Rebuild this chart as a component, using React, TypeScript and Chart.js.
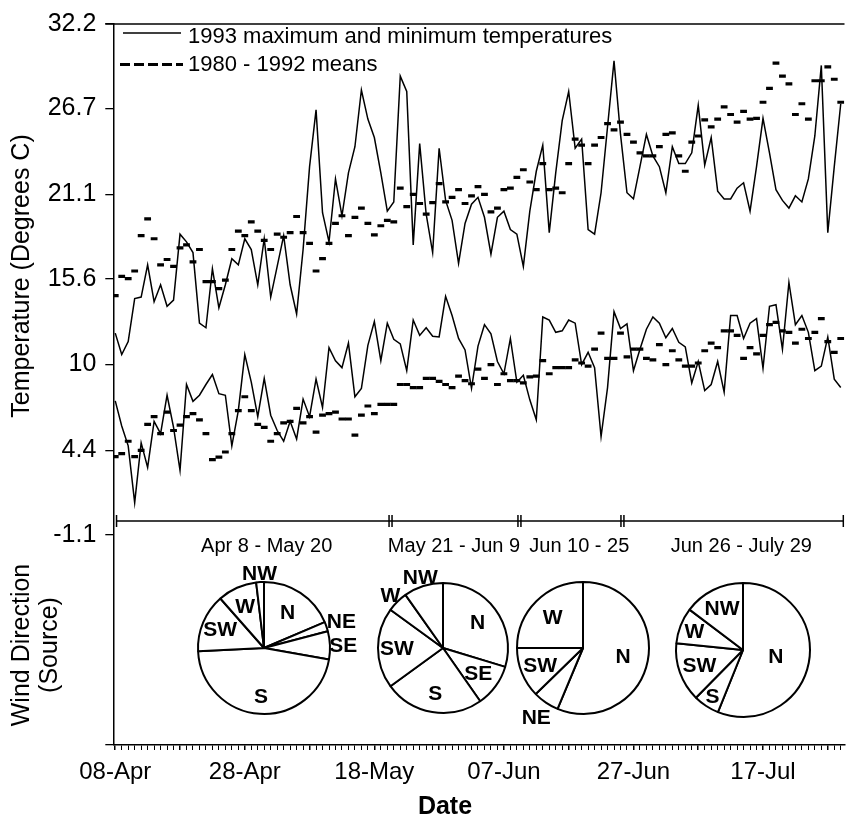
import React, { useEffect, useRef } from "react";
import { Chart, registerables } from "chart.js";
Chart.register(...registerables);

const FONT = '"Liberation Sans", Arial, Helvetica, sans-serif';

// Daily values, day 0 = 08-Apr ... day 112 = 29-Jul (1993)
const maxTemp1993 = [
  12.05, 10.65, 11.5, 14.3, 14.4, 16.5, 14.1, 15.2, 13.8, 14.2,
  18.5, 18.0, 17.3, 12.7, 12.4, 16.25, 13.7, 15.2, 16.9, 16.5,
  18.2, 17.5, 15.2, 18.2, 14.4, 16.4, 18.4, 15.2, 13.3, 17.5,
  22.9, 26.6, 19.9, 18.0, 22.1, 19.7, 22.5, 24.2, 27.9, 26.0,
  24.8, 22.5, 20.0, 20.6, 28.8, 27.8, 17.8, 24.4, 19.8, 17.3,
  24.1, 20.7, 19.4, 16.6, 19.2, 20.45, 20.9, 19.6, 17.2, 19.6,
  20.0, 18.8, 18.5, 16.4, 20.0, 22.6, 24.3, 18.6, 22.5, 25.9,
  27.8, 24.1, 24.7, 18.8, 18.5, 21.2, 25.5, 29.8, 25.0, 21.2,
  20.8, 22.9, 25.0, 23.6, 22.9, 21.2, 24.2, 23.1, 23.1, 23.8,
  26.9, 23.0, 24.8, 21.3, 20.8, 20.8, 21.5, 21.85, 20.0, 22.9,
  26.05, 23.8, 21.4, 20.7, 20.2, 21.0, 20.6, 22.1, 24.9, 29.5,
  18.6, 22.9, 27.0,
];
const minTemp1993 = [
  7.63, 6.0, 4.7, 1.0, 4.9, 3.3, 6.3, 5.5, 8.0, 5.9,
  3.1, 8.7, 7.6, 8.0, 8.7, 9.35, 8.1, 8.0, 4.7, 7.0,
  10.65, 8.85, 6.6, 9.1, 6.7, 5.7, 5.0, 6.3, 5.15, 7.75,
  6.6, 9.05, 7.2, 11.1, 10.25, 9.8, 11.4, 7.9, 8.45, 11.25,
  12.8, 10.25, 12.7, 11.65, 11.35, 9.6, 12.9, 11.9, 12.4, 11.85,
  11.8, 14.45, 13.2, 11.7, 10.95, 8.45, 11.2, 12.6, 12.0, 10.2,
  9.4, 11.7, 8.85, 9.3, 7.7, 6.4, 13.1, 12.9, 12.1, 12.2,
  12.9, 12.7, 10.0, 10.8, 9.8, 5.3, 8.5, 13.45, 12.35, 12.65,
  9.6, 11.0, 12.3, 13.1, 12.7, 11.75, 12.35, 11.45, 11.15, 8.8,
  10.2, 8.3, 8.7, 10.2, 8.2, 13.2, 13.2, 11.7, 12.7, 13.0,
  9.75, 13.8, 13.9, 11.0, 15.35, 12.6, 13.2, 12.1, 9.6, 9.9,
  11.8, 9.05, 8.5,
];
const meanMax8092 = [
  14.5, 15.75, 15.6, 16.1, 18.4, 19.5, 18.2, 16.5, 16.85, 16.4,
  17.6, 17.8, 16.7, 17.5, 15.4, 15.4, 14.95, 15.5, 17.5, 18.7,
  18.4, 19.3, 18.7, 18.1, 17.5, 18.5, 18.3, 18.6, 19.65, 18.6,
  17.9, 16.1, 16.9, 17.9, 19.2, 19.7, 18.4, 19.6, 20.2, 19.2,
  18.45, 19.05, 19.4, 19.3, 21.5, 20.3, 21.1, 20.5, 19.8, 20.55,
  21.8, 20.6, 20.9, 21.4, 20.5, 21.0, 21.6, 21.1, 19.95, 20.2,
  21.4, 21.5, 22.2, 22.7, 21.9, 21.4, 23.1, 21.4, 21.5, 21.2,
  23.1, 24.7, 24.3, 23.1, 24.3, 24.8, 25.7, 25.3, 25.8, 25.0,
  24.5, 23.8, 23.6, 23.6, 24.2, 25.0, 25.1, 23.6, 22.6, 24.5,
  24.9, 25.95, 25.5, 26.0, 26.8, 26.3, 25.8, 26.5, 26.0, 26.05,
  27.1, 28.0, 29.65, 28.8, 28.3, 26.3, 27.0, 26.0, 28.5, 28.5,
  29.4, 28.6, 27.1,
];
const meanMin8092 = [
  4.0, 4.2, 5.0, 4.0, 4.4, 6.1, 6.6, 5.5, 6.9, 5.7,
  6.05, 6.6, 6.8, 6.4, 5.5, 3.8, 3.97, 4.3, 5.5, 7.0,
  7.9, 7.0, 6.1, 5.9, 5.0, 5.5, 6.2, 6.3, 7.15, 6.2,
  6.6, 5.6, 6.7, 6.8, 6.9, 6.45, 6.45, 5.4, 6.7, 7.3,
  6.8, 7.4, 7.4, 7.4, 8.7, 8.7, 8.5, 8.5, 9.1, 9.1,
  8.9, 8.7, 8.5, 9.25, 8.95, 8.75, 9.7, 9.1, 10.0, 8.7,
  9.4, 8.95, 8.95, 8.8, 9.2, 9.25, 10.25, 9.4, 9.8, 9.8,
  9.8, 10.3, 10.1, 9.9, 11.0, 12.05, 10.4, 10.4, 12.05, 10.5,
  11.0, 11.0, 10.4, 10.3, 11.3, 10.0, 10.9, 10.3, 9.9, 9.9,
  10.1, 10.9, 11.4, 11.1, 12.2, 12.2, 11.9, 10.4, 11.1, 10.7,
  11.9, 12.6, 12.75, 12.2, 12.1, 11.4, 12.3, 11.7, 12.1, 13.0,
  11.5, 10.8, 11.7,
];

const dateTickDays = [0, 20, 40, 60, 80, 100];
const dateTickLabels = ["08-Apr", "28-Apr", "18-May", "07-Jun", "27-Jun", "17-Jul"];

const tempTickValues = [32.2, 26.7, 21.1, 15.6, 10, 4.4, -1.1];
const tempTickLabels = ["32.2", "26.7", "21.1", "15.6", "10", "4.4", "-1.1"];

const periodLabels = ["Apr 8 - May 20", "May 21 - Jun 9", "Jun 10 - 25", "Jun 26 - July 29"];
const periodBounds = [0.2, 42.5, 62.4, 78.3, 112.4];

// wind direction shares (% of days), clockwise from north
const windLabelsP1 = ["N", "NE", "SE", "S", "SW", "W", "NW"];
const windValuesP1 = [18.6, 2.3, 6.9, 46.4, 14.3, 9.6, 1.9];
const windLabelsP2 = ["N", "SE", "S", "SW", "W", "NW"];
const windValuesP2 = [29.7, 10.6, 24.7, 20.0, 5.2, 9.8];
const windLabelsP3 = ["N", "NE", "SW", "W"];
const windValuesP3 = [56.3, 6.4, 12.3, 25.0];
const windLabelsP4 = ["N", "S", "SW", "W", "NW"];
const windValuesP4 = [56.1, 6.3, 14.2, 8.7, 14.7];

// ---------- layout (not data) ----------
const X_MIN = -0.3;
const X_MAX = 112.58;
const Y_MIN = -14.8;
const Y_MAX = 32.2;
const PERIOD_BAR_Y = -0.2;

const pieLayout = [
  { labels: windLabelsP1, values: windValuesP1, cx: 264.3, cy: 648.3, r: 66, lr: [0.65, 1.24, 1.2, 0.73, 0.72, 0.7, 1.14] },
  { labels: windLabelsP2, values: windValuesP2, cx: 442.7, cy: 648.3, r: 65, lr: [0.66, 0.67, 0.71, 0.71, 1.15, 1.15] },
  { labels: windLabelsP3, values: windValuesP3, cx: 582.7, cy: 648.3, r: 66, lr: [0.62, 1.26, 0.7, 0.65] },
  { labels: windLabelsP4, values: windValuesP4, cx: 742.7, cy: 650, r: 67, lr: [0.5, 0.83, 0.69, 0.78, 0.7] },
];
const periodLabelX = [266.7, 454, 579.3, 741.3];

const toXY = (arr: number[]) => arr.map((v, i) => ({ x: i, y: v }));

const decorPlugin = {
  id: "decor",
  afterDraw(chart: any) {
    const ctx = chart.ctx as CanvasRenderingContext2D;
    const { left, right, top } = chart.chartArea;
    ctx.save();
    ctx.strokeStyle = "#000";
    ctx.fillStyle = "#000";
    // top frame line
    ctx.lineWidth = 1.5;
    ctx.beginPath();
    ctx.moveTo(left - 8, top);
    ctx.lineTo(right, top);
    ctx.stroke();
    // legend
    ctx.lineWidth = 1.5;
    ctx.beginPath();
    ctx.moveTo(123, 33);
    ctx.lineTo(181, 33);
    ctx.stroke();
    ctx.lineWidth = 3;
    ctx.setLineDash([10, 4]);
    ctx.beginPath();
    ctx.moveTo(120, 64.5);
    ctx.lineTo(183, 64.5);
    ctx.stroke();
    ctx.setLineDash([]);
    ctx.font = `22px ${FONT}`;
    ctx.textAlign = "left";
    ctx.textBaseline = "middle";
    ctx.fillText("1993 maximum and minimum temperatures", 188, 36.5);
    ctx.fillText("1980 - 1992 means", 188, 65);
    // period labels
    ctx.font = `20px ${FONT}`;
    ctx.textAlign = "center";
    periodLabels.forEach((t, i) => ctx.fillText(t, periodLabelX[i], 546));
    // axis titles
    ctx.font = `25px ${FONT}`;
    ctx.save();
    ctx.translate(22, 276);
    ctx.rotate(-Math.PI / 2);
    ctx.fillText("Temperature (Degrees C)", 0, 0);
    ctx.restore();
    ctx.save();
    ctx.translate(22, 645);
    ctx.rotate(-Math.PI / 2);
    ctx.fillText("Wind Direction", 0, 0);
    ctx.restore();
    ctx.save();
    ctx.translate(50, 645);
    ctx.rotate(-Math.PI / 2);
    ctx.fillText("(Source)", 0, 0);
    ctx.restore();
    ctx.font = `bold 25px ${FONT}`;
    ctx.fillText("Date", 445, 807);
    ctx.restore();
  },
};

function WindPie({ labels, values, cx, cy, r, lr }: any) {
  const ref = useRef<HTMLCanvasElement>(null);
  const SIZE = 220;
  useEffect(() => {
    if (!ref.current) return;
    const pad = SIZE / 2 - r - 1;
    const chart = new Chart(ref.current, {
      type: "pie",
      data: {
        labels,
        datasets: [
          {
            data: values,
            backgroundColor: "#fff",
            borderColor: "#000",
            borderWidth: 2,
          },
        ],
      },
      options: {
        responsive: false,
        animation: false,
        devicePixelRatio: 1,
        events: [],
        layout: { padding: pad },
        plugins: { legend: { display: false }, tooltip: { enabled: false } },
      },
      plugins: [
        {
          id: "pieLabels",
          afterDatasetsDraw(c: any) {
            const ctx = c.ctx as CanvasRenderingContext2D;
            const meta = c.getDatasetMeta(0);
            ctx.save();
            ctx.fillStyle = "#000";
            ctx.font = `bold 21px ${FONT}`;
            ctx.textAlign = "center";
            ctx.textBaseline = "middle";
            meta.data.forEach((arc: any, i: number) => {
              const p = arc.getProps(["x", "y", "startAngle", "endAngle", "outerRadius"], true);
              const mid = (p.startAngle + p.endAngle) / 2;
              const rr = p.outerRadius * lr[i];
              ctx.fillText(labels[i], p.x + Math.cos(mid) * rr, p.y + Math.sin(mid) * rr + 1);
            });
            ctx.restore();
          },
        },
      ],
    });
    return () => chart.destroy();
  }, []);
  return (
    <canvas
      ref={ref}
      width={SIZE}
      height={SIZE}
      style={{ position: "absolute", left: cx - SIZE / 2, top: cy - SIZE / 2 }}
    />
  );
}

export default function App() {
  const ref = useRef<HTMLCanvasElement>(null);
  useEffect(() => {
    if (!ref.current) return;
    const periodTickPts: { x: number; y: number }[] = [];
    periodBounds.forEach((b, i) => {
      if (i === 0 || i === periodBounds.length - 1) periodTickPts.push({ x: b, y: PERIOD_BAR_Y });
      else {
        periodTickPts.push({ x: b - 0.23, y: PERIOD_BAR_Y });
        periodTickPts.push({ x: b + 0.23, y: PERIOD_BAR_Y });
      }
    });
    const dayTicks: number[] = [];
    for (let d = 0; d < maxTemp1993.length; d++) dayTicks.push(d);

    const chart = new Chart(ref.current, {
      type: "line",
      data: {
        datasets: [
          { label: "max", data: toXY(maxTemp1993), borderColor: "#000", borderWidth: 1.5, pointRadius: 0, tension: 0 },
          { label: "min", data: toXY(minTemp1993), borderColor: "#000", borderWidth: 1.5, pointRadius: 0, tension: 0 },
          {
            label: "meanMax", data: toXY(meanMax8092), showLine: false, pointStyle: "line",
            pointRadius: 3.4, pointBorderWidth: 3.2, pointBorderColor: "#000", borderColor: "#000",
          },
          {
            label: "meanMin", data: toXY(meanMin8092), showLine: false, pointStyle: "line",
            pointRadius: 3.4, pointBorderWidth: 3.2, pointBorderColor: "#000", borderColor: "#000",
          },
          {
            label: "periods",
            data: [
              { x: periodBounds[0], y: PERIOD_BAR_Y },
              { x: periodBounds[periodBounds.length - 1], y: PERIOD_BAR_Y },
            ],
            borderColor: "#000", borderWidth: 1.5, pointRadius: 0,
          },
          {
            label: "periodTicks", data: periodTickPts, showLine: false, pointStyle: "line", rotation: 90,
            pointRadius: 6, pointBorderWidth: 1.5, pointBorderColor: "#000", borderColor: "#000",
          },
        ],
      },
      options: {
        responsive: false,
        animation: false,
        devicePixelRatio: 1,
        events: [],
        layout: { padding: { top: 18, left: 0, right: 0, bottom: 0 } },
        plugins: { legend: { display: false }, tooltip: { enabled: false } },
        scales: {
          x: {
            type: "linear",
            min: X_MIN,
            max: X_MAX,
            afterBuildTicks: (s: any) => {
              s.ticks = dayTicks.map((v) => ({ value: v }));
            },
            afterFit: (s: any) => {
              s.height = 82;
            },
            ticks: {
              autoSkip: false,
              maxRotation: 0,
              color: "#000",
              font: { family: FONT, size: 24 },
              padding: 8,
              callback: (v: any) => {
                const k = dateTickDays.indexOf(Number(v));
                return k >= 0 ? dateTickLabels[k] : "";
              },
            },
            grid: {
              drawOnChartArea: false,
              drawTicks: true,
              tickLength: 5,
              color: "#000",
              lineWidth: (c: any) => (c.tick && c.tick.value % 10 === 0 ? 1.5 : 1),
            },
            border: { color: "#000", width: 1.5 },
          },
          y: {
            min: Y_MIN,
            max: Y_MAX,
            afterBuildTicks: (s: any) => {
              s.ticks = [{ value: Y_MIN }, ...tempTickValues.map((v) => ({ value: v }))];
            },
            afterFit: (s: any) => {
              s.width = 113.3;
            },
            ticks: {
              color: "#000",
              font: { family: FONT, size: 25 },
              padding: 9,
              callback: (v: any) => {
                const k = tempTickValues.indexOf(Number(v));
                return k >= 0 ? tempTickLabels[k] : "";
              },
            },
            grid: { drawOnChartArea: false, drawTicks: true, tickLength: 8, color: "#000", lineWidth: 1.3 },
            border: { color: "#000", width: 1.5 },
          },
        },
      },
      plugins: [decorPlugin],
    });
    return () => chart.destroy();
  }, []);

  return (
    <div style={{ position: "absolute", left: 0, top: 0, width: 852, height: 827, background: "#fff" }}>
      <canvas ref={ref} width={852} height={827} style={{ position: "absolute", left: 0, top: 0 }} />
      {pieLayout.map((p, i) => (
        <WindPie key={i} {...p} />
      ))}
    </div>
  );
}
